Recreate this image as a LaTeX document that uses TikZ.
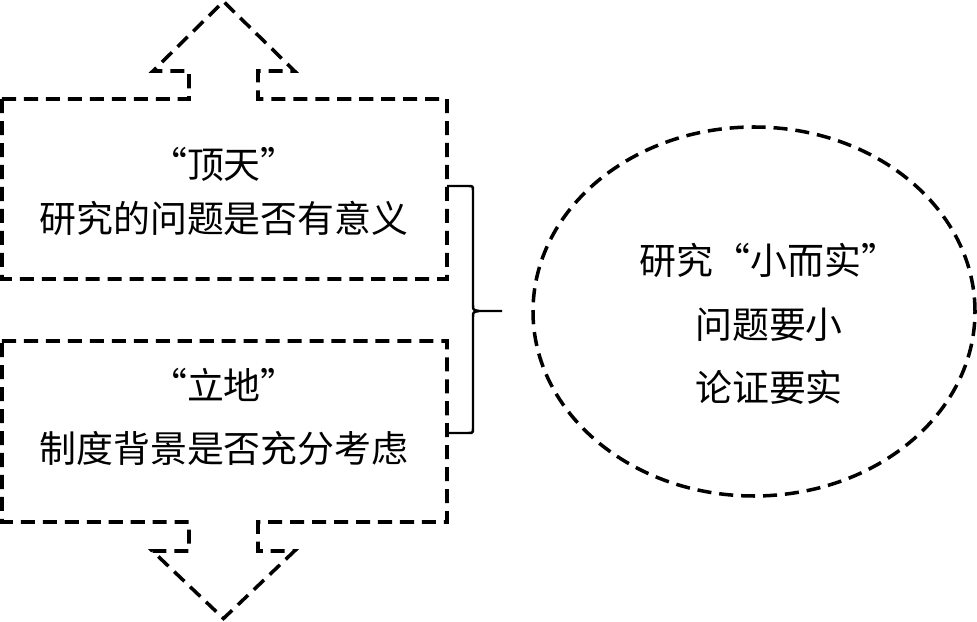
\documentclass[tikz,border=0pt]{standalone}
\usepackage{fontspec}
\usepackage{tikz}
\usetikzlibrary{positioning,shapes.geometric}
\newfontfamily\cjk{Noto Sans CJK SC}

\begin{document}
\begin{tikzpicture}[
    font=\cjk,
    dashbox/.style={draw, line width=2pt, dash pattern=on 8pt off 4.5pt, line join=miter},
    lbl/.style={align=center, inner sep=0pt, font=\cjk\fontsize{21}{31}\selectfont},
    brc/.style={draw, line width=1.4pt, line join=round}
]
    \useasboundingbox (0,0) rectangle (19.54,12.44);

    % upper box with arrow up
    \draw[dashbox] (0.04,10.46) -- (3.78,10.46) -- (3.78,11.02) -- (3.06,11.02)
        -- (4.47,12.41) -- (5.89,11.02) -- (5.16,11.02) -- (5.16,10.46)
        -- (8.94,10.46) -- (8.94,6.86) -- (0.04,6.86) -- cycle;
    % lower box with arrow down
    \draw[dashbox] (0.04,5.62) -- (8.94,5.62) -- (8.94,2.00) -- (5.16,2.00)
        -- (5.16,1.42) -- (5.89,1.42) -- (4.47,0.07) -- (3.05,1.42) -- (3.78,1.42)
        -- (3.78,2.00) -- (0.04,2.00) -- cycle;

    \node[lbl] (dingtian) at (4.48,8.61) {“顶天”\\研究的问题是否有意义};
    \node[lbl, font=\cjk\fontsize{21}{36}\selectfont] (lidi) at (4.48,4.10) {“立地”\\制度背景是否充分考虑};

    \node[dashbox, ellipse, minimum width=8.84cm, minimum height=7.38cm, inner sep=0pt, outer sep=0pt] (goal) at (15.08,6.21) {};
    \node[lbl, font=\cjk\fontsize{21}{36}\selectfont] (goaltext) at (15.38,5.96) {研究“小而实”\\问题要小\\论证要实};

    % brace joining both boxes
    \coordinate (btop) at (8.94,8.72);
    \coordinate (bbot) at (8.94,3.78);
    \coordinate (btip) at (10.04,6.22);
    \draw[brc] (btop) -- (9.36,8.72) .. controls (9.46,8.72) .. (9.46,8.62) -- (9.46,6.34)
        .. controls (9.46,6.24) .. (9.58,6.22) -- (btip);
    \draw[brc] (9.58,6.22) .. controls (9.46,6.20) .. (9.46,6.10) -- (9.46,3.88)
        .. controls (9.46,3.78) .. (9.36,3.78) -- (bbot);
\end{tikzpicture}
\end{document}
